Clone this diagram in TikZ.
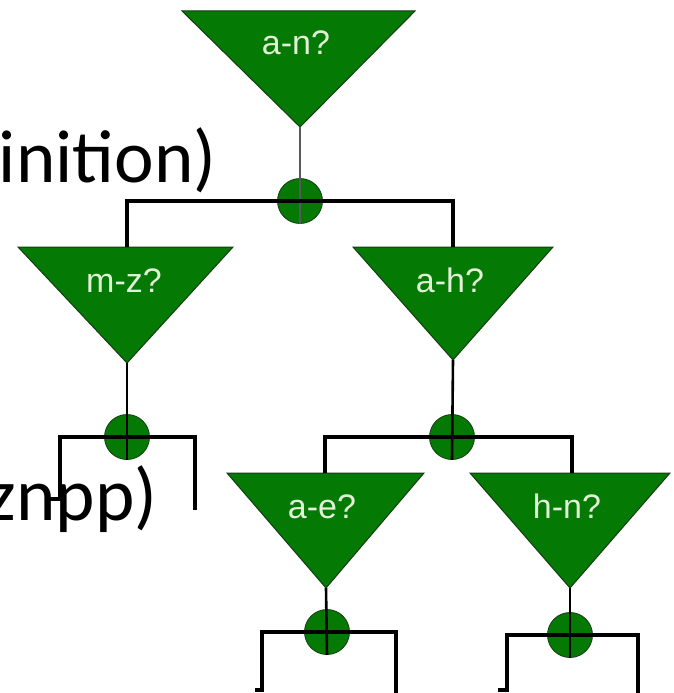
\documentclass[tikz,border=0pt]{standalone}
\usepackage{fontspec}
\setmainfont{Carlito}
\newfontfamily\labelfont{Liberation Sans}
\definecolor{tgreen}{RGB}{4,122,4}
\definecolor{tedge}{RGB}{20,60,20}
\definecolor{tlabel}{RGB}{225,240,215}
\tikzset{
  tri/.style={fill=tgreen,draw=tedge,line width=1pt,line join=miter},
  junction/.style={circle,fill=tgreen,draw=tedge,line width=0.8pt,minimum size=45pt,inner sep=0pt},
  tlab/.style={font=\labelfont\fontsize{34}{34}\selectfont,text=tlabel,anchor=base,inner sep=0pt},
  bigtext/.style={font=\fontsize{75}{75}\selectfont,anchor=base east,inner sep=0pt,text=black},
  branch/.style={line width=3.4pt,black,line join=miter},
  stem/.style={line width=2.6pt,black}
}
\begin{document}
\begin{tikzpicture}[x=1pt,y=-1pt]
\useasboundingbox (0,0) rectangle (673,693);
\clip (0,0) rectangle (673,693);
\fill[white] (0,0) rectangle (673,693);

% large cut-off texts
\node[bigtext] (t1) at (216.5,182) {inition)};
\node[bigtext] (t2) at (157.5,520) {znpp)};

% triangle corners
\coordinate (anL) at (182,11); \coordinate (anR) at (415,11); \coordinate (anA) at (300,127);
\coordinate (mzL) at (18,247); \coordinate (mzR) at (233,247); \coordinate (mzA) at (127,363);
\coordinate (ahL) at (353,247); \coordinate (ahR) at (553,247); \coordinate (ahA) at (453,360);
\coordinate (aeL) at (227,473); \coordinate (aeR) at (424,473); \coordinate (aeA) at (326,588);
\coordinate (hnL) at (470,473); \coordinate (hnR) at (670,473); \coordinate (hnA) at (570,588);
\coordinate (mzT) at (127,247); \coordinate (ahT) at (453,247);
\coordinate (aeT) at (325,473); \coordinate (hnT) at (572,473);

\path[tri] (anL) -- (anR) -- (anA) -- cycle;
\path[tri] (mzL) -- (mzR) -- (mzA) -- cycle;
\path[tri] (ahL) -- (ahR) -- (ahA) -- cycle;
\path[tri] (aeL) -- (aeR) -- (aeA) -- cycle;
\path[tri] (hnL) -- (hnR) -- (hnA) -- cycle;

\node[tlab] (lan) at (296,55) {a-n?};
\node[tlab] (lmz) at (124,292) {m-z?};
\node[tlab] (lah) at (450,292) {a-h?};
\node[tlab] (lae) at (322,518) {a-e?};
\node[tlab] (lhn) at (567,518) {h-n?};

% junctions
\node[junction] (j0) at (300,201) {};
\node[junction] (j1) at (127,437) {};
\node[junction] (j2) at (452,437) {};
\node[junction] (j3) at (327,632) {};
\node[junction] (j4) at (570,635) {};

% free ends
\coordinate (j1a) at (60,499); \coordinate (j1aa) at (47,499);
\coordinate (j1b) at (195,510);
\coordinate (j3a) at (262,693); \coordinate (j3b) at (396,693);
\coordinate (j3t1) at (262,690); \coordinate (j3t2) at (255,690);
\coordinate (j4a) at (507,693); \coordinate (j4b) at (638,693);
\coordinate (j4t1) at (507,690); \coordinate (j4t2) at (498,690);

% stems through the junctions
\draw[stem,black!65] (anA) -- (j0.south);
\draw[stem] (mzA) -- (j1.south);
\draw[stem] (ahA) -- (j2.south);
\draw[stem] (aeA) -- (j3.south);
\draw[stem] (hnA) -- (j4.south);

% branches
\draw[branch] (mzT) |- (j0.center) -| (ahT);
\draw[branch] (j1aa) -- (j1a) |- (j1.center) -| (j1b);
\draw[branch] (aeT) |- (j2.center) -| (hnT);
\draw[branch] (j3t2) -- (j3t1) -- (j3a |- j3.center) -- (j3b |- j3.center) -- (j3b);
\draw[branch] (j4t2) -- (j4t1) -- (j4a |- j4.center) -- (j4b |- j4.center) -- (j4b);
\end{tikzpicture}
\end{document}
